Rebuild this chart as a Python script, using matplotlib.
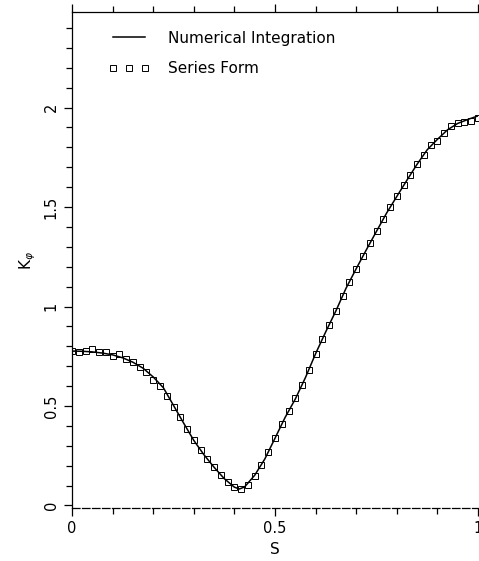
import numpy as np
import matplotlib.pyplot as plt
from matplotlib.ticker import MultipleLocator, FixedLocator

# numerical integration curve
s_line = [0.0, 0.025, 0.05, 0.075, 0.1, 0.125, 0.15, 0.175, 0.2, 0.225, 0.25,
          0.275, 0.3, 0.325, 0.35, 0.375, 0.4, 0.4125, 0.425, 0.45, 0.475, 0.5,
          0.525, 0.55, 0.575, 0.6, 0.625, 0.65, 0.675, 0.7, 0.725, 0.75, 0.775,
          0.8, 0.825, 0.85, 0.875, 0.9, 0.925, 0.95, 0.975, 1.0]
k_line = [0.776, 0.775, 0.772, 0.766, 0.757, 0.742, 0.720, 0.690, 0.646, 0.592, 0.503,
          0.414, 0.327, 0.255, 0.192, 0.135, 0.092, 0.083, 0.093, 0.152, 0.234, 0.338,
          0.443, 0.535, 0.643, 0.763, 0.873, 0.978, 1.092, 1.190, 1.285, 1.378, 1.470,
          1.553, 1.635, 1.715, 1.788, 1.840, 1.888, 1.920, 1.940, 1.958]

# series form points, 61 of them from S=0 to S=1
s_series = np.arange(61) / 60
k_series = [0.776, 0.773, 0.776, 0.785, 0.770, 0.770, 0.751, 0.760, 0.735, 0.720,
            0.697, 0.669, 0.631, 0.602, 0.550, 0.493, 0.443, 0.386, 0.328, 0.279,
            0.233, 0.192, 0.152, 0.119, 0.093, 0.082, 0.104, 0.150, 0.205, 0.268,
            0.340, 0.410, 0.475, 0.538, 0.607, 0.680, 0.762, 0.835, 0.906, 0.978,
            1.055, 1.125, 1.190, 1.255, 1.318, 1.378, 1.440, 1.500, 1.553, 1.612,
            1.660, 1.715, 1.760, 1.812, 1.830, 1.872, 1.905, 1.922, 1.925, 1.932,
            1.948]

fig = plt.figure(figsize=(4.79, 5.61), dpi=100)
ax = fig.add_axes([72/479, 1 - 508/561, 406/479, 496/561])

ax.plot(s_line, k_line, color='black', lw=1.1, label='Numerical Integration', zorder=2)
ax.plot(s_series, k_series, ls='none', marker='s', ms=5, mfc='none', mec='black',
        mew=0.7, label='Series Form', zorder=3)

ax.set_xlim(0, 1)
ax.set_ylim(-0.0126, 2.48)

ax.xaxis.set_major_locator(FixedLocator([0, 0.5, 1]))
ax.xaxis.set_minor_locator(MultipleLocator(0.1))
ax.yaxis.set_major_locator(MultipleLocator(0.5))
ax.yaxis.set_minor_locator(MultipleLocator(0.1))
ax.set_xticklabels(['0', '0.5', '1'])
ax.set_yticks([0, 0.5, 1, 1.5, 2])
ax.set_yticklabels(['0', '0.5', '1', '1.5', '2'], rotation=90, va='center')

ax.tick_params(which='both', direction='out', top=True, right=False,
               labelsize=10.5, width=0.9)
ax.tick_params(which='major', length=6)
ax.tick_params(which='minor', length=4)

ax.spines['right'].set_visible(False)
ax.spines['bottom'].set_linestyle((0, (6, 2)))
for sp in ['left', 'top', 'bottom']:
    ax.spines[sp].set_linewidth(0.9)

ax.set_xlabel('S', fontsize=11)
ax.set_ylabel(r'K$_\varphi$', fontsize=11)

ax.legend(loc='upper left', bbox_to_anchor=(0.055, 0.99), frameon=False,
          fontsize=11, numpoints=3, handlelength=2.7, handletextpad=1.2,
          labelspacing=1.0)

fig.savefig('out.png', dpi=100)
